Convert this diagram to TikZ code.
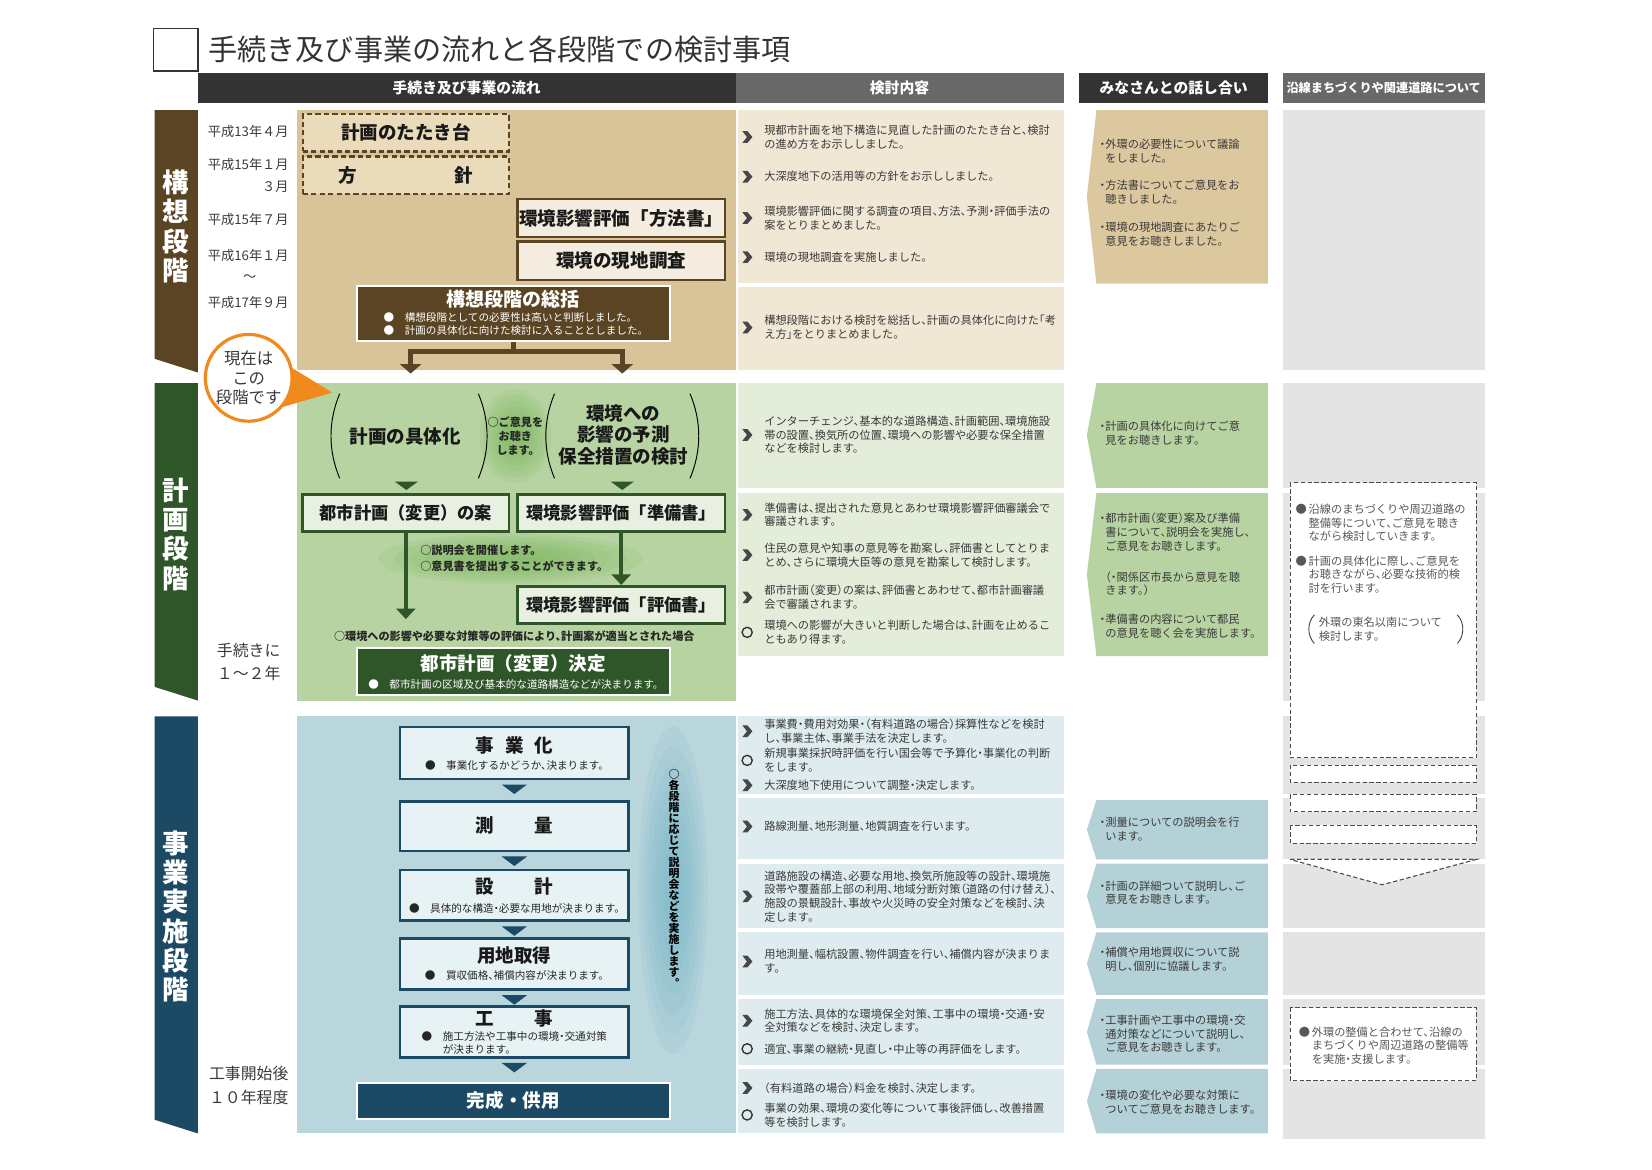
\documentclass[tikz,border=0pt]{standalone}
\usepackage{fontspec}
\setmainfont{Noto Sans CJK JP}
\newfontfamily\hf{Noto Sans CJK JP}[RawFeature=+halt]
\usepackage{xcolor}
\usetikzlibrary{arrows.meta, calc, positioning}

\definecolor{hdDark}{HTML}{333333}
\definecolor{hdGrey}{HTML}{686868}
\definecolor{txt}{HTML}{3A3A3A}
\definecolor{brownD}{HTML}{5A4424}
\definecolor{brownArea}{HTML}{D9C49A}
\definecolor{brownLight}{HTML}{F1E7D5}
\definecolor{brownTalk}{HTML}{DCC89E}
\definecolor{brownDash}{HTML}{EADBBB}
\definecolor{brownBox}{HTML}{F4ECDE}
\definecolor{greenD}{HTML}{2F5628}
\definecolor{greenArea}{HTML}{B7D3A2}
\definecolor{greenLight}{HTML}{E3EDDA}
\definecolor{greenBox}{HTML}{E8F1E1}
\definecolor{greenGlow}{HTML}{6FB04A}
\definecolor{blueD}{HTML}{1C4964}
\definecolor{blueArea}{HTML}{B9D6DC}
\definecolor{blueLight}{HTML}{DFECEF}
\definecolor{blueTalk}{HTML}{B5D1D8}
\definecolor{blueBox}{HTML}{E7F2F4}
\definecolor{blueGlow}{HTML}{6AB0C4}
\definecolor{greyD}{HTML}{E4E4E4}
\definecolor{orangeC}{HTML}{F08A1C}

\tikzset{
  chev/.pic={\fill[hdDark!90] (-4.5,-5.5) -- (0.3,-5.5) -- (5,0) -- (0.3,5.5) -- (-4.5,5.5) -- (-0.2,0) -- cycle;},
  ring/.pic={\draw[hdDark, line width=1.3pt] (0,0) circle (4.8);},
}
% talk column shape: top, bottom, colour
\newcommand\talkshape[3]{\fill[#3] (1036,#1) -- (1198,#1) -- (1198,#2) -- (1036,#2) -- (1027,{(#1+#2)/2}) -- cycle;}
% soft glow: centre, x radius, y radius, colour
\newcommand\glowspot[4]{\foreach \s in {1,0.88,...,0.2} \fill[#4, opacity=0.11] (#1) ellipse ({#2*\s} and {#3*\s});}

\begin{document}
\begin{tikzpicture}[x=1pt, y=-1pt,
  every node/.style={inner sep=0pt},
  hd/.style={minimum height=28, text=white, font=\bfseries\fontsize{14}{16}\selectfont},
  date/.style={anchor=east, text=txt, font=\fontsize{12.5}{15}\selectfont},
  side/.style={align=center, text=txt, font=\fontsize{15}{22.5}\selectfont},
  stg/.style={align=center, text=white, font=\bfseries\fontsize{25}{27.5}\selectfont},
  kt/.style={anchor=west, align=left, text=txt, font=\hf\fontsize{10.6}{13}\selectfont},
  dt/.style={anchor=west, align=left, text=txt!85, font=\hf\fontsize{10.6}{13}\selectfont},
  btitle/.style={text=black!90, font=\bfseries\fontsize{17.5}{20.5}\selectfont},
  bnote/.style={align=left, text=black!85, font=\hf\fontsize{10}{12}\selectfont},
  tbox/.style={draw=brownD, line width=2.6pt, fill=brownBox, minimum width=196, minimum height=36, btitle},
  dashbox/.style={tbox, fill=brownDash, dash pattern=on 5pt off 3pt, line width=2.2pt, minimum width=195, minimum height=35},
  gbox/.style={tbox, draw=greenD, fill=greenBox, minimum height=35, font=\bfseries\fontsize{16.3}{19}\selectfont},
  sbox/.style={draw=blueD, line width=2.6pt, fill=blueBox, minimum width=216},
  dbox/.style={draw=white, line width=2pt, minimum width=296},
  dsh/.style={draw=black!70, dash pattern=on 4pt off 2.5pt, line width=0.9pt, fill=white},
  barrow/.style={brownD, line width=4.5pt, {Triangle[width=20pt,length=9pt]}-{Triangle[width=20pt,length=9pt]}},
  garrow/.style={greenD, line width=3.5pt, -{Triangle[width=18pt,length=10pt]}},
]
\useasboundingbox (0,0) rectangle (1561,1105);

% title and headers
\node[draw=hdDark, line width=1.6pt, minimum width=42, minimum height=40] (tbox) at (166,47) {};
\node[right=9pt of tbox, text=hdDark, font=\fontsize{27.5}{30}\selectfont] (title) {手続き及び事業の流れと各段階での検討事項};
\node[hd, fill=hdDark, minimum width=508] (hA) at (441,83) {手続き及び事業の流れ};
\node[hd, fill=hdGrey, minimum width=310] (hB) at (850,83) {検討内容};
\node[hd, fill=hdDark, minimum width=178] (hC) at (1109,83) {みなさんとの話し合い};
\node[hd, fill=hdGrey, minimum width=191, font=\bfseries\fontsize{11.5}{13}\selectfont] (hD) at (1307.5,83) {沿線まちづくりや関連道路について};

% stage bands
\fill[brownD] (146,104) -- (187,104) -- (187,352) -- (146,339) -- cycle;
\fill[greenD] (146,362) -- (187,362) -- (187,662) -- (146,649) -- cycle;
\fill[blueD] (146,677) -- (187,677) -- (187,1071) -- (146,1058) -- cycle;
\node[stg] (s1) at (166.5,214) {構\\想\\段\\階};
\node[stg] (s2) at (166.5,505) {計\\画\\段\\階};
\node[stg] (s3) at (166.5,866) {事\\業\\実\\施\\段\\階};

% backgrounds
\fill[brownArea] (281,104) rectangle (695,350);
\fill[greenArea] (281,362) rectangle (695,662);
\fill[blueArea] (281,677) rectangle (695,1071);
\fill[brownLight] (697,104) rectangle (1005,267);
\fill[brownLight] (697,271) rectangle (1005,350);
\fill[greenLight] (697,362) rectangle (1005,461);
\fill[greenLight] (697,466) rectangle (1005,620);
\foreach \a/\b in {677/750, 754/812, 816/877, 881/940, 944/1006, 1010/1071}
  \fill[blueLight] (697,\a) rectangle (1005,\b);
\talkshape{104}{268}{brownTalk}
\talkshape{362}{461}{greenArea}
\talkshape{466}{620}{greenArea}
\talkshape{756}{812}{blueTalk}
\talkshape{816}{877}{blueTalk}
\talkshape{881}{940}{blueTalk}
\talkshape{944}{1006}{blueTalk}
\talkshape{1010}{1071}{blueTalk}
\foreach \a/\b in {104/350, 362/461, 466/662, 677/750, 754/812, 816/877, 881/940, 944/1006, 1010/1076}
  \fill[greyD] (1212,\a) rectangle (1403,\b);

% dates
\node[date] (d1) at (273,124) {平成13年４月};
\node[date] (d2) at (273,155) {平成15年１月};
\node[date] (d3) at (273,177) {３月};
\node[date] (d4) at (273,207) {平成15年７月};
\node[date] (d5) at (273,241) {平成16年１月};
\node[date, anchor=center] (d6) at (236,263) {～};
\node[date] (d7) at (273,286) {平成17年９月};
\node[side] (d8) at (235,625.5) {手続きに\\１～２年};
\node[side] (d9) at (235,1026) {工事開始後\\１０年程度};

% stage 1 flow
\node[dashbox] (tataki) at (383.5,125.5) {計画のたたき台};
\node[dashbox] (hoshin) at (383.5,165.5) {方\hspace{92pt}針};
\node[tbox] (hoho) at (587,206) {環境影響評価「方法書」};
\node[tbox] (genchi) at (587,246.5) {環境の現地調査};
\node[dbox, fill=brownD, minimum height=52] (sokatsu) at (485,296) {};
\node[btitle, text=white, font=\bfseries\fontsize{18}{20}\selectfont] (sokatsuT) at (485,283) {構想段階の総括};
\node[bnote, text=white] (sokatsuN) at (485,306) {●　構想段階としての必要性は高いと判断しました。\\●　計画の具体化に向けた検討に入ることとしました。};
\coordinate (fork) at (485,332);
\coordinate (f1) at (388,353);
\coordinate (f2) at (588,353);
\draw[brownD, line width=4.5pt] (sokatsu.south) -- (fork);
\draw[barrow] (f1) |- (fork) -| (f2);

% callout
\fill[orangeC] (265,341) -- (314,371) -- (262,386) -- cycle;
\node[circle, draw=orangeC, line width=3pt, fill=white, minimum size=82, side, font=\fontsize{15.5}{18.5}\selectfont] (genzai) at (235,357) {現在は\\この\\段階です};

% stage 2 flow
\glowspot{487,412}{34}{44}{greenGlow}
\glowspot{482,528}{125}{24}{greenGlow}
\draw[black, line width=0.9pt] (321,372) .. controls (310,398) and (310,426) .. (321,452);
\draw[black, line width=0.9pt] (452,372) .. controls (463,398) and (463,426) .. (452,452);
\draw[black, line width=0.9pt] (524,372) .. controls (513,398) and (513,426) .. (524,452);
\draw[black, line width=0.9pt] (652,372) .. controls (663,398) and (663,426) .. (652,452);
\node[btitle] (gutai) at (383,412) {計画の具体化};
\node[align=center, text=black!85, font=\bfseries\hf\fontsize{10.5}{13.5}\selectfont] (iken) at (487,412) {○ご意見を\\お聴き\\します。};
\node[btitle, align=center] (eikyo) at (589,411) {環境への\\影響の予測\\保全措置の検討};
\fill[greenD] (373,455) -- (395,455) -- (384,463) -- cycle;
\fill[greenD] (577,455) -- (599,455) -- (588,463) -- cycle;
\node[gbox, minimum width=195] (toshian) at (383.5,484.5) {都市計画（変更）の案};
\node[gbox] (junbi) at (587,484.5) {環境影響評価「準備書」};
\node[gbox] (hyoka) at (587,571.5) {環境影響評価「評価書」};
\coordinate (toshiEnd) at (383.5,585);
\draw[garrow] (toshian.south) -- (toshiEnd);
\draw[garrow] (junbi.south) -- (hyoka.north);
\node[anchor=west, align=left, text=black!85, font=\bfseries\hf\fontsize{10.5}{14.5}\selectfont] (setsumei) at (397,527.5) {○説明会を開催します。\\○意見書を提出することができます。};
\node[text=black!85, font=\bfseries\hf\fontsize{10.5}{12}\selectfont] (tekito) at (486,601) {○環境への影響や必要な対策等の評価により、計画案が適当とされた場合};
\node[dbox, fill=greenD, minimum height=45] (kettei) at (485,634.5) {};
\node[btitle, text=white] (ketteiT) at (485,627) {都市計画（変更）決定};
\node[bnote, text=white] (ketteiN) at (485,647) {●　都市計画の区域及び基本的な道路構造などが決まります。};

% stage 3 flow
\glowspot{636,841}{33}{155}{blueGlow}
\node[align=center, text=black, font=\bfseries\hf\fontsize{10.3}{10.4}\selectfont] (kaku) at (637,830) {○\\各\\段\\階\\に\\応\\じ\\て\\説\\明\\会\\な\\ど\\を\\実\\施\\し\\ま\\す\\︒};
\node[sbox, minimum height=49] (jigyo) at (486,711.5) {};
\node[btitle] (jigyoT) at (486,704) {事\hspace{0.6em}業\hspace{0.6em}化};
\node[bnote] (jigyoN) at (486,723) {●　事業化するかどうか、決まります。};
\node[sbox, minimum height=47] (sokuryo) at (486,780.5) {};
\node[btitle] (sokuryoT) at (486,780) {測\hspace{2.2em}量};
\node[sbox, minimum height=48] (sekkei) at (486,846) {};
\node[btitle] (sekkeiT) at (486,838) {設\hspace{2.2em}計};
\node[bnote] (sekkeiN) at (486,858) {●　具体的な構造・必要な用地が決まります。};
\node[sbox, minimum height=48] (youchi) at (486,911) {};
\node[btitle] (youchiT) at (486,903) {用地取得};
\node[bnote] (youchiN) at (486,922) {●　買収価格、補償内容が決まります。};
\node[sbox, minimum height=48] (kouji) at (486,975) {};
\node[btitle] (koujiT) at (486,962) {工\hspace{2.2em}事};
\node[bnote] (koujiN) at (486,985.5) {●　施工方法や工事中の環境・交通対策\\　　が決まります。};
\node[dbox, fill=blueD, minimum height=34] (kansei) at (485,1040) {};
\node[btitle, text=white] (kanseiT) at (485,1040) {完成・供用};
\foreach \a in {jigyo, sokuryo, sekkei, youchi, kouji}
  \fill[blueD] ($(\a.south)+(-12,4)$) -- ++(24,0) -- ($(\a.south)+(0,13)$) -- cycle;

% kentou naiyou
\pic at (706,129.5) {chev};
\node[kt] (k1) at (722,129.5) {現都市計画を地下構造に見直した計画のたたき台と、検討\\の進め方をお示ししました。};
\pic at (706,167) {chev};
\node[kt] (k2) at (722,167) {大深度地下の活用等の方針をお示ししました。};
\pic at (706,206) {chev};
\node[kt] (k3) at (722,206) {環境影響評価に関する調査の項目、方法、予測・評価手法の\\案をとりまとめました。};
\pic at (706,243) {chev};
\node[kt] (k4) at (722,243) {環境の現地調査を実施しました。};
\pic at (706,309.5) {chev};
\node[kt] (k5) at (722,309.5) {構想段階における検討を総括し、計画の具体化に向けた「考\\え方」をとりまとめました。};
\pic at (706,411) {chev};
\node[kt] (k6) at (722,411) {インターチェンジ、基本的な道路構造、計画範囲、環境施設\\帯の設置、換気所の位置、環境への影響や必要な保全措置\\などを検討します。};
\pic at (706,486.5) {chev};
\node[kt] (k7) at (722,486.5) {準備書は、提出された意見とあわせ環境影響評価審議会で\\審議されます。};
\pic at (706,524.5) {chev};
\node[kt] (k8) at (722,524.5) {住民の意見や知事の意見等を勘案し、評価書としてとりま\\とめ、さらに環境大臣等の意見を勘案して検討します。};
\pic at (706,564.5) {chev};
\node[kt] (k9) at (722,564.5) {都市計画（変更）の案は、評価書とあわせて、都市計画審議\\会で審議されます。};
\pic at (706,597.5) {ring};
\node[kt] (k10) at (722,597.5) {環境への影響が大きいと判断した場合は、計画を止めるこ\\ともあり得ます。};
\pic at (706,691) {chev};
\node[kt] (k11) at (722,691) {事業費・費用対効果・（有料道路の場合）採算性などを検討\\し、事業主体、事業手法を決定します。};
\pic at (706,718.5) {ring};
\node[kt] (k12) at (722,718.5) {新規事業採択時評価を行い国会等で予算化・事業化の判断\\をします。};
\pic at (706,742) {chev};
\node[kt] (k13) at (722,742) {大深度地下使用について調整・決定します。};
\pic at (706,781) {chev};
\node[kt] (k14) at (722,781) {路線測量、地形測量、地質調査を行います。};
\pic at (706,847) {chev};
\node[kt] (k15) at (722,847) {道路施設の構造、必要な用地、換気所施設等の設計、環境施\\設帯や覆蓋部上部の利用、地域分断対策（道路の付け替え）、\\施設の景観設計、事故や火災時の安全対策などを検討、決\\定します。};
\pic at (706,908.5) {chev};
\node[kt] (k16) at (722,908.5) {用地測量、幅杭設置、物件調査を行い、補償内容が決まりま\\す。};
\pic at (706,964.5) {chev};
\node[kt] (k17) at (722,964.5) {施工方法、具体的な環境保全対策、工事中の環境・交通・安\\全対策などを検討、決定します。};
\pic at (706,991) {ring};
\node[kt] (k18) at (722,991) {適宜、事業の継続・見直し・中止等の再評価をします。};
\pic at (706,1028) {chev};
\node[kt] (k19) at (722,1028) {（有料道路の場合）料金を検討、決定します。};
\pic at (706,1053.5) {ring};
\node[kt] (k20) at (722,1053.5) {事業の効果、環境の変化等について事後評価し、改善措置\\等を検討します。};

% minasan to no hanashiai
\node[kt] (t1) at (1039,142.5) {・外環の必要性について議論\\\hphantom{・}をしました。};
\node[kt] (t2) at (1039,181.5) {・方法書についてご意見をお\\\hphantom{・}聴きしました。};
\node[kt] (t3) at (1039,221.5) {・環境の現地調査にあたりご\\\hphantom{・}意見をお聴きしました。};
\node[kt] (t4) at (1039,409.5) {・計画の具体化に向けてご意\\\hphantom{・}見をお聴きします。};
\node[kt] (t5) at (1039,503) {・都市計画（変更）案及び準備\\\hphantom{・}書について、説明会を実施し、\\\hphantom{・}ご意見をお聴きします。};
\node[kt] (t6) at (1039,551.5) {\hphantom{・}（・関係区市長から意見を聴\\\hphantom{・}きます。）};
\node[kt] (t7) at (1039,591.5) {・準備書の内容について都民\\\hphantom{・}の意見を聴く会を実施します。};
\node[kt] (t8) at (1039,783.5) {・測量についての説明会を行\\\hphantom{・}います。};
\node[kt] (t9) at (1039,843.5) {・計画の詳細ついて説明し、ご\\\hphantom{・}意見をお聴きします。};
\node[kt] (t10) at (1039,906.5) {・補償や用地買収について説\\\hphantom{・}明し、個別に協議します。};
\node[kt] (t11) at (1039,977) {・工事計画や工事中の環境・交\\\hphantom{・}通対策などについて説明し、\\\hphantom{・}ご意見をお聴きします。};
\node[kt] (t12) at (1039,1041.5) {・環境の変化や必要な対策に\\\hphantom{・}ついてご意見をお聴きします。};

% ensen machizukuri
\fill[dsh] (1219,456) rectangle (1395,716);
\fill[dsh] (1219,723) rectangle (1395,739);
\fill[dsh] (1219,751) rectangle (1395,767);
\fill[dsh] (1219,780) rectangle (1395,797);
\fill[dsh] (1219,812) -- (1395,812) -- (1306,836) -- cycle;
\fill[dsh] (1219,952) rectangle (1395,1021);
\draw[dsh] (1219,456) rectangle (1395,716);
\draw[dsh] (1219,723) rectangle (1395,739);
\draw[dsh] (1219,751) rectangle (1395,767);
\draw[dsh] (1219,780) rectangle (1395,797);
\draw[dsh] (1219,812) -- (1395,812) -- (1306,836) -- cycle;
\draw[dsh] (1219,952) rectangle (1395,1021);
\node[dt] (e1) at (1224,494) {●\,沿線のまちづくりや周辺道路の\\\hphantom{●\,}整備等について、ご意見を聴き\\\hphantom{●\,}ながら検討していきます。};
\node[dt] (e2) at (1224,543) {●\,計画の具体化に際し、ご意見を\\\hphantom{●\,}お聴きながら、必要な技術的検\\\hphantom{●\,}討を行います。};
\node[dt] (e3) at (1246,594.5) {外環の東名以南について\\検討します。};
\draw[txt, line width=0.8pt] (1242,581) .. controls (1235,588) and (1235,601) .. (1242,608);
\draw[txt, line width=0.8pt] (1377,581) .. controls (1384,588) and (1384,601) .. (1377,608);
\node[dt] (e4) at (1227,988) {●\,外環の整備と合わせて、沿線の\\\hphantom{●\,}まちづくりや周辺道路の整備等\\\hphantom{●\,}を実施・支援します。};
\end{tikzpicture}
\end{document}
